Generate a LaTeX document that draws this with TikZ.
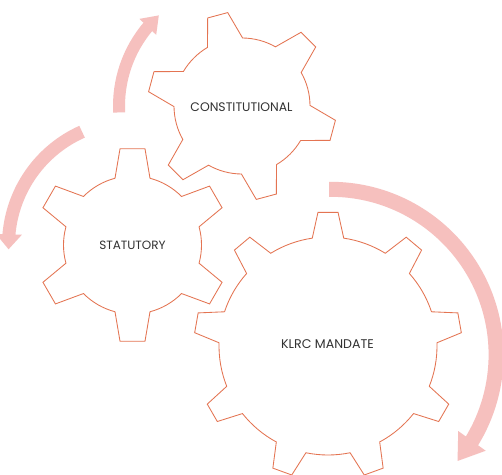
\documentclass[tikz,border=0pt]{standalone}
\usepackage{fontspec}
\setmainfont{Poppins}
\usetikzlibrary{arrows.meta,bending}
\definecolor{gearcol}{RGB}{228,116,82}
\definecolor{bandcol}{RGB}{246,192,190}
\definecolor{txtcol}{RGB}{50,50,50}
\newcommand{\mygear}[8]{%
  \draw[gearline, shift={(#1,-#2)}] ({#4-#8}:#6)
  \foreach \k in {1,...,#3}{
    -- ({#4+(\k-1)*360/#3-#7}:#5)
    -- ({#4+(\k-1)*360/#3+#7}:#5)
    -- ({#4+(\k-1)*360/#3+#8}:#6)
    arc[start angle={#4+(\k-1)*360/#3+#8}, end angle={#4+\k*360/#3-#8}, radius=#6]
  } -- cycle;
}
\tikzset{
  gearline/.style={draw=gearcol, line width=0.85pt, line join=miter},
  band/.style={draw=bandcol, line cap=butt},
  gearlabel/.style={text=txtcol, inner sep=0pt},
}
\begin{document}
\begin{tikzpicture}[x=1pt,y=1pt]
\fill[white] (0,0) rectangle (502,-474);
\useasboundingbox (0,0) rectangle (502,-474);
\coordinate (g1) at (242,-106);
\coordinate (g2) at (132.5,-245);
\coordinate (g3) at (328,-346);
\coordinate (c3) at (330.6,-354.8);
% arrows
\draw[band, line width=12pt, -{Triangle[length=16pt,width=22pt]}]
  ([shift={(183:123)}]g1) arc[start angle=183, end angle=132.5, radius=123];
\draw[band, line width=13pt, -{Triangle[length=15pt,width=25pt]}]
  ([shift={(114:124)}]g2) arc[start angle=114, end angle=182, radius=124];
\draw[band, line width=15pt, -{Triangle[length=25pt,width=32pt]}]
  ([shift={(90.5:165.5)}]c3) arc[start angle=90.5, end angle=-40, radius=165.5];
% gears
\mygear{242}{106}{6}{-15}{94.5}{68}{6.3}{15.5}
\mygear{132.5}{245}{6}{90}{97}{69}{7.4}{14.7}
\mygear{328}{346}{9}{90}{134}{109}{4.3}{8.3}
% labels
\node[gearlabel, font=\fontsize{12.4}{14}\selectfont] (t1) at (241.5,-107) {CONSTITUTIONAL};
\node[gearlabel, font=\fontsize{12}{14}\selectfont] (t2) at (132.5,-245) {STATUTORY};
\node[gearlabel, font=\fontsize{12.6}{14}\selectfont] (t3) at (327.5,-344) {KLRC MANDATE};
\end{tikzpicture}
\end{document}
